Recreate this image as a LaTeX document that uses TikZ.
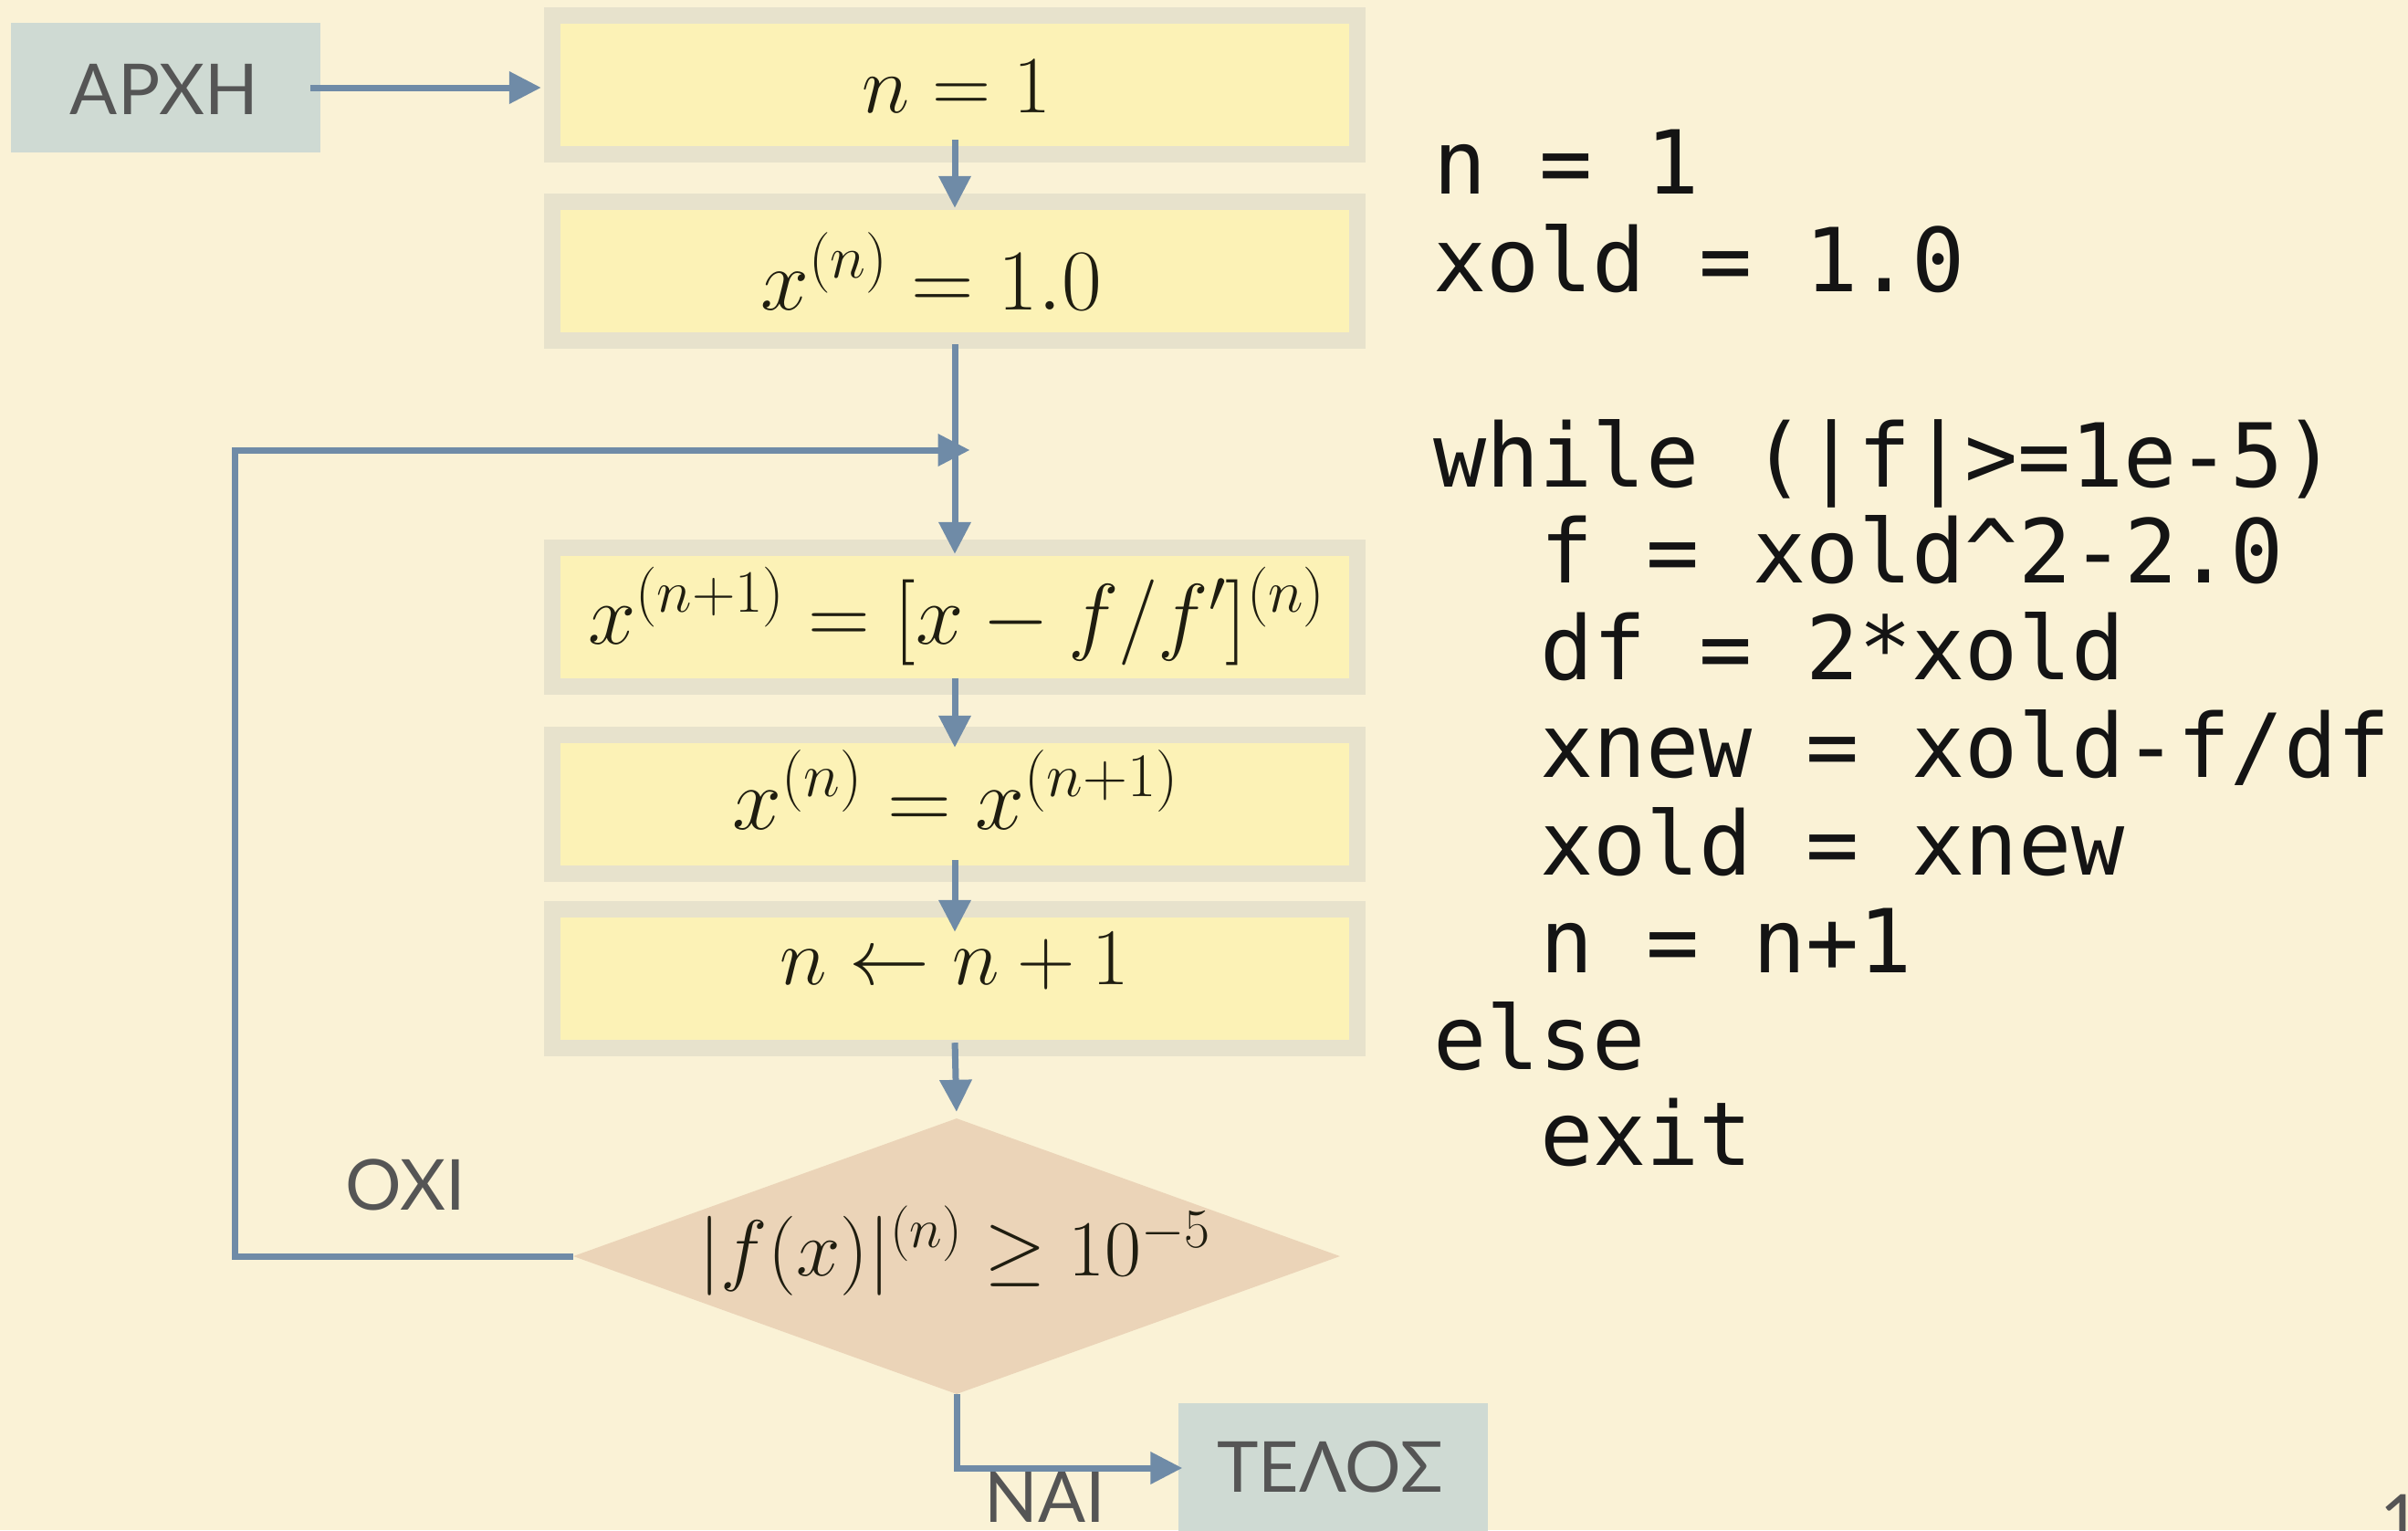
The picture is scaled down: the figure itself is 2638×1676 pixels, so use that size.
\RequirePackage{fix-cm}
\documentclass[tikz,border=0pt]{standalone}
\usepackage{fontspec}
\newfontfamily\lblfont{Lato}
\newfontfamily\codefont{DejaVu Sans Mono}
\usetikzlibrary{arrows.meta,shapes.geometric}
\definecolor{bgc}{HTML}{FAF2D6}
\definecolor{boxy}{HTML}{FCF2B6}
\definecolor{shad}{HTML}{E7E2CC}
\definecolor{termc}{HTML}{CFDAD3}
\definecolor{diac}{HTML}{EBD4B8}
\definecolor{arrc}{HTML}{6F8BA7}
\definecolor{lblc}{HTML}{555555}
\definecolor{mathc}{HTML}{1F1D10}
\definecolor{codec}{HTML}{141414}
\begin{document}
\begin{tikzpicture}[x=1pt,y=-1pt,
  procbox/.style={rectangle, fill=boxy, preaction={draw=shad, line width=36pt},
    minimum width=864pt, minimum height=134pt, inner sep=0pt},
  termbox/.style={rectangle, fill=termc, minimum width=339pt, minimum height=142pt, inner sep=0pt},
  decbox/.style={diamond, fill=diac, aspect=2.78, minimum width=840pt, minimum height=302pt, inner sep=0pt},
  mtext/.style={inner sep=0pt, text=mathc, font=\fontsize{88}{100}\selectfont},
  lbl/.style={inner sep=0pt, text=lblc, font=\lblfont\fontsize{77}{90}\selectfont},
  codeline/.style={anchor=base west, inner sep=0pt, text=codec, font=\codefont\fontsize{96.7}{107}\selectfont},
  flow/.style={draw=arrc, line width=7pt, -{Triangle[length=35pt,width=34pt]}},
  loopline/.style={draw=arrc, line width=7pt, -{Triangle[length=35pt,width=34pt]}}
]
\useasboundingbox (0,0) rectangle (2638,1676);
\fill[bgc] (0,0) rectangle (2638,1676);

% boxes
\node[termbox] (start) at (181.5,96) {};
\node[procbox] (b1) at (1046,93) {};
\node[procbox] (b2) at (1046,296.5) {};
\node[procbox] (b3) at (1046,675.5) {};
\node[procbox] (b4) at (1046,880.5) {};
\node[procbox] (b5) at (1046,1071.5) {};
\node[decbox] (dia) at (1048,1376) {};
\node[termbox] (tend) at (1460,1608) {};

% texts
\node[lbl] (tstart) at (180,98) {ΑΡΧΗ};
\node[lbl] (tend2) at (1457,1607) {ΤΕΛΟΣ};
\node[lbl] (tno) at (444,1298) {ΟΧΙ};
\node[lbl] (tyes) at (1145,1640) {ΝΑΙ};
\node[mtext, font=\fontsize{89}{100}\selectfont] (t1) at (1048,95) {$n=1$};
\node[mtext, font=\fontsize{95}{100}\selectfont] (t2) at (1020,297) {$x^{(n)}=1.0$};
\node[mtext, font=\fontsize{94}{100}\selectfont] (t3) at (1048,675) {$x^{(n+1)}=[x-f/f']^{(n)}$};
\node[mtext, font=\fontsize{97}{100}\selectfont] (t4) at (1047,865) {$x^{(n)}=x^{(n+1)}$};
\node[mtext, font=\fontsize{88}{100}\selectfont] (t5) at (1046,1053) {$n\leftarrow n+1$};
\node[mtext, font=\fontsize{87}{100}\selectfont] (t6) at (1046,1370) {$|f(x)|^{(n)}\geq 10^{-5}$};

% code
\node[codeline] (c1) at (1570,212) {n = 1};
\node[codeline] (c2) at (1570,319) {xold = 1.0};
\node[codeline] (c3) at (1570,533) {while (|f|>=1e-5)};
\node[codeline] (c4) at (1687,638) {f = xold\textasciicircum 2-2.0};
\node[codeline] (c5) at (1687,744) {df = 2*xold};
\node[codeline] (c6) at (1687,851) {xnew = xold-f/df};
\node[codeline] (c7) at (1687,958) {xold = xnew};
\node[codeline] (c8) at (1687,1065) {n = n+1};
\node[codeline] (c9) at (1570,1171) {else};
\node[codeline] (c10) at (1687,1276) {exit};

% page number (cut off)
\node[lbl, anchor=base west] (pg) at (2607,1692) {1};

% connectors
\coordinate (lc) at (257,493);
\coordinate (jn) at (1045.5,493);
\draw[flow, shorten <=-11pt, shorten >=21pt] (start.east) -- (start.east -| b1.west);
\draw[flow, shorten <=-7pt, shorten >=1.5pt] (b1.south) -- (b2.north);
\draw[flow, shorten <=13.5pt, shorten >=1.5pt] (b2.south) -- (b3.north);
\draw[flow, shorten >=-5.5pt] (b3.south) -- (b4.north);
\draw[flow, shorten <=-5.5pt, shorten >=-16.5pt] (b4.south) -- (b5.north);
\draw[flow, shorten <=3.5pt, shorten >=7pt] (b5.south) -- (dia.north);
\draw[flow, shorten >=-5pt] (dia.south) |- (tend.west);
\draw[loopline, shorten >=-17pt] (dia.west) -| (lc) -- (jn);
\end{tikzpicture}
\end{document}
